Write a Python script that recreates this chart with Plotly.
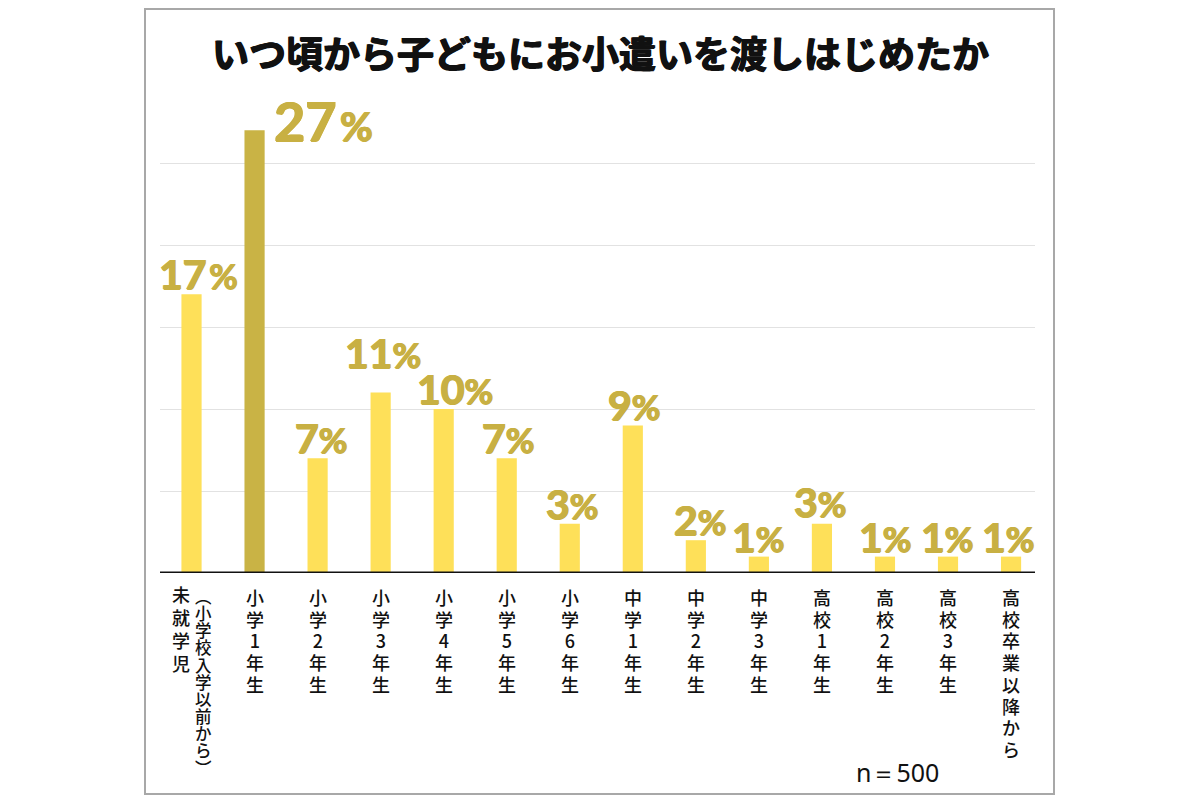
import plotly.graph_objects as go

# ---- data ----
categories = ["未就学児（小学校入学以前から）", "小学1年生", "小学2年生", "小学3年生", "小学4年生",
              "小学5年生", "小学6年生", "中学1年生", "中学2年生", "中学3年生",
              "高校1年生", "高校2年生", "高校3年生", "高校卒業以降から"]
values = [17, 27, 7, 11, 10, 7, 3, 9, 2, 1, 3, 1, 1, 1]
value_labels = ["17", "27", "7", "11", "10", "7", "3", "9", "2", "1", "3", "1", "1", "1"]
first_label_main = "未就学児"
first_label_sub = "︵小学校入学以前から︶"
title_text = "いつ頃から子どもにお小遣いを渡しはじめたか"
note_text = "n＝500"

YELLOW = "#FEE059"
GOLD = "#C9B345"
LABEL = "#C8B043"
INK = "#111111"

OFF = 8  # page body margin offset
PLOT_L, PLOT_R, PLOT_T, PLOT_B = 160 - OFF, 1035 - OFF, 81 - OFF, 573 - OFF
W = PLOT_R - PLOT_L
H = PLOT_B - PLOT_T


def px(xp):
    return (xp - OFF - PLOT_L) / W


def py(yp):
    return (PLOT_B - (yp - OFF)) / H


x_idx = list(range(len(categories)))
colors = [GOLD if v == max(values) else YELLOW for v in values]

fig = go.Figure(go.Bar(
    x=x_idx, y=values, marker=dict(color=colors, line=dict(width=0)),
    width=0.32, hoverinfo="skip",
))

# value labels: (x shift, y shift)
label_style = {
    0: (7, 0), 1: (17, 0), 2: (3, 0), 3: (2, 20),
    4: (11, 0), 5: (1, 0), 6: (2, 0), 7: (1, 0),
    8: (4, 0), 9: (-1, 0), 10: (-2, 2), 11: (0, 0),
    12: (-1, 0), 13: (-3, 0),
}
label_shadow = f"0.7px 0 0 {LABEL}, -0.7px 0 0 {LABEL}, 0 0.6px 0 {LABEL}"
annotations = []
for i, (v, lab) in enumerate(zip(values, value_labels)):
    xs, ys = label_style[i]
    big = v == max(values)
    if big:
        text = f"<b>{lab}</b>&#8202;<b><span style='font-size:40px'>%</span></b>"
        annotations.append(dict(
            x=i, y=v, xref="x", yref="y", xanchor="left", yanchor="middle",
            xshift=xs, yshift=10, showarrow=False, text=text,
            font=dict(family="Lato, 'Noto Sans', sans-serif", size=54, color=LABEL,
                      weight=900, shadow=label_shadow),
        ))
    else:
        sep = "&#8202;" if i == 0 else ""
        text = f"<b>{lab}</b>{sep}<b><span style='font-size:35px'>%</span></b>"
        annotations.append(dict(
            x=i, y=v, xref="x", yref="y", xanchor="center", yanchor="bottom",
            xshift=xs, yshift=ys - 6, showarrow=False, text=text,
            font=dict(family="Lato, 'Noto Sans', sans-serif", size=41, color=LABEL,
                      weight=900, shadow=label_shadow),
        ))


# vertical category labels (one character per line)
def vert(s, glyph):
    return "<br>".join(f"<span style='font-size:{glyph}px'>{ch}</span>" for ch in s)


CJK = "'Noto Sans CJK JP', sans-serif"
for i, c in enumerate(categories):
    if i == 0:
        annotations.append(dict(x=i, y=0, xref="x", yref="y", xanchor="center", yanchor="top",
                                xshift=-11, yshift=-6, showarrow=False,
                                text=vert(first_label_main, 18),
                                font=dict(family=CJK, size=17.7, color=INK, weight=500),
                                align="center"))
        annotations.append(dict(x=i, y=0, xref="x", yref="y", xanchor="center", yanchor="top",
                                xshift=12, yshift=-9, showarrow=False,
                                text=vert(first_label_sub, 16.5),
                                font=dict(family=CJK, size=13.2, color=INK, weight=500),
                                align="center"))
    else:
        annotations.append(dict(x=i, y=0, xref="x", yref="y", xanchor="center", yanchor="top",
                                xshift=0, yshift=-9, showarrow=False, text=vert(c, 18),
                                font=dict(family=CJK, size=16.7, color=INK, weight=500),
                                align="center"))

# title
annotations.append(dict(x=px(600), y=py(52), xref="paper", yref="paper", showarrow=False,
                        text=f"<b>{title_text}</b>", xanchor="center", yanchor="middle",
                        font=dict(family=CJK, size=37, color=INK, weight=900,
                                  shadow=f"0.8px 0 0 {INK}, -0.8px 0 0 {INK}, 0 0.6px 0 {INK}")))
# sample size note
annotations.append(dict(x=px(854), y=py(772), xref="paper", yref="paper", showarrow=False,
                        text=note_text, xanchor="left", yanchor="middle",
                        font=dict(family="'Noto Sans', Lato, sans-serif", size=25, color=INK)))

fig.update_layout(annotations=annotations)

# outer border
fig.add_shape(type="rect", xref="paper", yref="paper",
              x0=px(145), x1=px(1054), y0=py(794), y1=py(9),
              line=dict(color="#A8A8A8", width=2), fillcolor="rgba(0,0,0,0)", layer="below")
# baseline
fig.add_shape(type="line", xref="paper", yref="y", x0=0, x1=1, y0=0, y1=0,
              line=dict(color=INK, width=3))

fig.update_layout(
    width=1200, height=800,
    margin=dict(l=PLOT_L, r=1200 - PLOT_R, t=PLOT_T, b=800 - PLOT_B),
    paper_bgcolor="white", plot_bgcolor="white",
    showlegend=False,
    xaxis=dict(range=[-0.5, 13.38], showticklabels=False, showgrid=False, zeroline=False,
               ticks="", fixedrange=True),
    yaxis=dict(range=[0, 30], dtick=5, showticklabels=False, showgrid=True,
               gridcolor="#E2E2E2", gridwidth=1.2, zeroline=False, ticks="", fixedrange=True),
)

fig.write_html("out.html")
